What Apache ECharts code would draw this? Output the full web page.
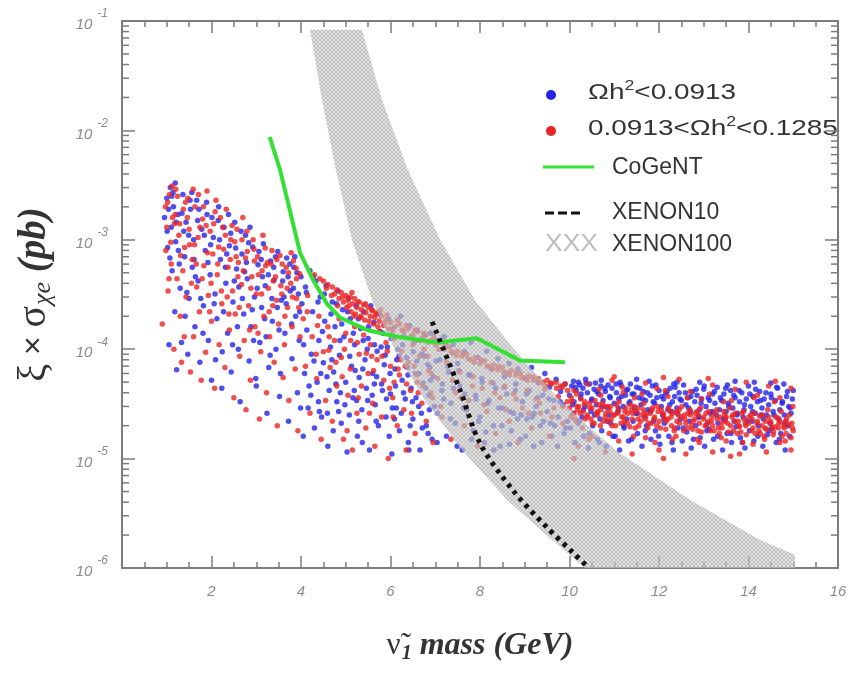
<!DOCTYPE html>
<html>
<head>
<meta charset="utf-8">
<script src="https://cdn.jsdelivr.net/npm/echarts@6/dist/echarts.min.js"></script>
<style>
html,body{margin:0;padding:0;background:#fff;}
#chart{width:861px;height:674px;}
</style>
</head>
<body>
<div id="chart"></div>
<script>
// Sneutrino scan points: [mass (GeV), xi * sigma_Xe (pb)]
const bluePoints = [
[0.95,1.6e-3],[1.0,2.4e-3],[1.02,8.5e-4],[1.05,1.1e-4],[1.08,3.0e-3],[1.1,1.3e-3],[1.12,5.2e-4],[1.15,2.0e-3],[1.18,2.2e-4],[1.2,9.6e-4],
[1.22,6.5e-5],[1.25,1.7e-3],[1.3,3.6e-4],[1.33,1.15e-4],[1.36,2.6e-3],[1.4,7.0e-4],[1.43,1.45e-3],[1.47,9.0e-5],[1.5,2.9e-4],[1.53,1.9e-3],
[1.57,5.6e-4],[1.6,1.0e-3],[1.63,1.6e-4],[1.67,2.3e-3],[1.7,4.2e-4],[1.74,7.6e-5],[1.78,1.25e-3],[1.82,2.5e-4],[1.86,8.0e-4],[1.9,1.7e-3],
[1.93,1.2e-4],[1.97,4.8e-4],[2.0,5.2e-5],[2.04,1.05e-3],[2.08,3.2e-4],[2.12,1.9e-4],[2.16,2.0e-3],[2.2,6.6e-4],[2.24,9.5e-5],[2.28,1.3e-3],
[2.32,4.0e-4],[2.36,1.4e-4],[2.4,8.8e-4],[2.44,6.2e-5],[2.48,2.7e-4],[2.52,1.45e-3],[2.56,5.4e-4],[2.6,1.0e-4],[2.64,3.3e-5],[2.68,7.4e-4],
[2.72,2.1e-4],[2.76,1.1e-3],[2.8,4.4e-4],[2.84,7.8e-5],[2.88,1.6e-4],[2.92,8.6e-4],[2.96,3.0e-4],[3.0,4.6e-5],[3.04,5.9e-4],[3.08,1.15e-4],
[3.12,2.4e-4],[3.16,9.2e-4],[3.2,3.8e-4],[3.24,2.6e-5],[3.28,6.8e-5],[3.32,6.4e-4],[3.36,1.8e-4],[3.4,4.3e-4],[3.44,1.0e-4],[3.48,7.8e-4],
[3.52,3.7e-5],[3.56,2.8e-4],[3.6,5.1e-4],[3.64,1.4e-4],[3.68,6.8e-4],[3.72,2.2e-5],[3.76,3.4e-4],[3.8,8.2e-5],[3.84,5.6e-4],[3.88,2.0e-4],
[3.92,4.0e-5],[3.96,1.2e-4],[4.0,4.6e-4],
[1.04,1.9e-3],[1.14,2.7e-3],[1.21,1.45e-3],[1.28,6.0e-4],[1.38,1.2e-3],[1.45,3.3e-4],[1.52,2.3e-3],[1.61,6.6e-4],[1.69,1.5e-3],[1.76,2.9e-4],
[1.84,1.1e-3],[1.92,6.2e-4],[2.01,1.6e-3],[2.09,8.0e-5],[2.18,1.0e-3],[2.27,2.2e-4],[2.34,7.4e-4],[2.43,1.15e-3],[2.51,4.2e-4],[2.58,1.6e-4],
[2.66,1.2e-3],[2.74,5.1e-4],[2.83,9.4e-4],[2.91,2.3e-4],[2.99,5.4e-5],[3.06,7.8e-4],[3.14,4.6e-4],[3.22,1.3e-4],[3.31,8.8e-5],[3.39,5.6e-4],
[3.47,2.4e-4],[3.54,6.0e-5],[3.62,3.0e-4],[3.71,4.6e-4],[3.79,1.7e-4],[3.86,7.0e-4],[3.94,3.2e-4],[3.99,2.9e-5],
[1.01,1.2e-3],[1.07,6.8e-4],[1.11,2.5e-3],[1.19,3.3e-3],[1.26,8.0e-4],[1.34,1.75e-3],[1.41,2.0e-4],[1.49,1.1e-3],[1.56,2.7e-3],[1.64,4.6e-4],
[1.72,1.9e-3],[1.81,1.4e-4],[1.89,2.2e-3],[1.98,9.0e-4],[2.06,2.6e-4],[2.15,1.5e-3],[2.23,4.4e-5],[2.31,5.6e-4],[2.38,1.7e-3],[2.47,1.1e-4],
[2.54,8.4e-4],[2.61,3.7e-4],[2.69,2.9e-4],[2.78,6.2e-4],[2.86,1.3e-3],[2.94,1.2e-4],[3.02,3.6e-4],[3.11,6.6e-4],[3.19,1.9e-4],[3.27,4.8e-4],
[3.35,2.9e-4],[3.43,7.0e-4],[3.51,1.5e-4],[3.59,4.2e-4],[3.67,2.6e-4],[3.75,6.0e-4],[3.83,3.6e-4],[3.91,5.0e-4],[3.97,2.2e-4],
[4.02,2.6e-4],[4.05,1.6e-5],[4.08,6.0e-5],[4.1,3.7e-4],[4.13,1.5e-4],[4.16,2.9e-5],[4.2,5.2e-4],[4.23,9.0e-5],[4.26,2.2e-4],[4.3,1.9e-5],
[4.33,4.2e-4],[4.36,5.0e-5],[4.4,1.2e-4],[4.43,3.0e-4],[4.46,2.4e-5],[4.5,7.5e-5],[4.53,1.8e-4],[4.56,3.8e-4],[4.6,1.3e-5],[4.63,4.2e-5],
[4.66,1.05e-4],[4.7,2.7e-4],[4.73,6.2e-5],[4.76,1.6e-4],[4.8,3.3e-5],[4.83,3.4e-4],[4.86,8.8e-5],[4.9,2.1e-5],[4.93,2.3e-4],[4.96,1.3e-4],
[5.0,5.0e-5],[5.03,1.15e-5],[5.06,2.9e-4],[5.1,1.9e-4],[5.13,7.0e-5],[5.16,3.6e-5],[5.2,1.1e-4],[5.23,2.5e-4],[5.26,1.6e-5],[5.3,5.5e-5],
[5.33,1.55e-4],[5.36,2.8e-5],[5.4,2.2e-4],[5.43,8.0e-5],[5.46,4.4e-5],[5.5,1.25e-4],[5.53,1.2e-5],[5.56,2.5e-4],[5.6,6.0e-5],[5.63,1.75e-4],
[5.66,3.1e-5],[5.7,9.6e-5],[5.73,2.0e-5],[5.76,2.1e-4],[5.8,4.8e-5],[5.83,1.4e-4],[5.86,7.2e-5],[5.9,2.4e-5],[5.93,1.05e-4],[5.96,1.9e-4],
[6.0,3.9e-5],[6.03,1.1e-5],[6.06,1.55e-4],[6.1,6.6e-5],[6.13,2.9e-5],[6.16,1.0e-4],[6.2,1.8e-5],[6.23,2.0e-4],[6.26,5.2e-5],[6.3,1.3e-4],
[6.33,3.5e-5],[6.36,8.4e-5],[6.4,1.4e-5],[6.43,1.65e-4],[6.46,4.4e-5],[6.5,2.3e-5],[6.53,1.15e-4],[6.56,6.0e-5],[6.6,1.5e-4],[6.63,3.0e-5],
[6.66,1.2e-5],[6.7,9.0e-5],[6.73,4.9e-5],[6.76,1.35e-4],[6.8,2.0e-5],[6.83,7.2e-5],[6.86,3.8e-5],[6.9,1.4e-4],[6.93,1.5e-5],[6.96,5.6e-5],
[4.06,1.1e-4],[4.18,4.6e-5],[4.29,7.8e-5],[4.39,3.3e-5],[4.48,1.45e-4],[4.59,2.6e-5],[4.69,8.0e-5],[4.78,4.8e-5],[4.87,1.2e-4],[4.98,3.1e-5],
[5.09,8.6e-5],[5.19,4.2e-5],[5.29,2.2e-5],[5.38,6.6e-5],[5.48,1.0e-4],[5.59,3.8e-5],[5.69,5.6e-5],[5.79,1.05e-4],[5.91,3.5e-5],[5.99,6.0e-5],
[6.09,2.3e-5],[6.19,8.6e-5],[6.29,4.0e-5],[6.39,5.8e-5],[6.49,3.3e-5],[6.59,7.8e-5],[6.69,2.6e-5],[6.79,4.4e-5],[6.88,6.8e-5],[6.98,3.0e-5],
[4.44,6.0e-5],[4.84,2.7e-5],[5.24,3.4e-5],[5.64,4.8e-5],[6.04,2.9e-5],[6.44,2.0e-5],[6.84,1.7e-5],
[4.12,3.3e-4],[4.27,4.6e-4],[4.38,2.7e-4],[4.52,3.2e-4],[4.67,2.1e-4],[4.79,2.6e-4],[4.91,1.7e-4],[5.04,2.2e-4],[5.17,1.4e-4],[5.28,1.9e-4],
[5.39,1.2e-4],[5.51,1.6e-4],[5.64,1.1e-4],[5.77,1.45e-4],[5.88,8.8e-5],[6.02,1.25e-4],[6.14,8.0e-5],[6.27,1.1e-4],[6.38,6.8e-5],[6.51,9.5e-5],
[6.64,6.0e-5],[6.77,8.6e-5],[6.89,5.2e-5],[7.02,7.8e-5],[7.16,4.8e-5],[7.28,7.0e-5],[7.41,4.4e-5],[7.53,6.4e-5],[7.66,3.9e-5],[7.78,5.8e-5],
[7.91,3.5e-5],[8.04,5.4e-5],[8.17,3.2e-5],[8.29,4.9e-5],[8.42,2.9e-5],[8.54,4.5e-5],[8.67,2.7e-5],[8.79,4.2e-5],[8.92,2.5e-5],[9.04,3.9e-5],
[9.17,2.4e-5],[9.29,3.6e-5],[9.42,2.2e-5],[9.54,3.5e-5],[9.67,2.0e-5],[9.79,3.3e-5],[9.91,1.9e-5],
[4.22,3.8e-5],[4.41,2.7e-5],[4.58,5.6e-5],[4.72,1.8e-5],[4.88,4.0e-5],[5.08,2.5e-5],[5.21,6.4e-5],[5.37,1.4e-5],[5.49,3.4e-5],[5.68,2.2e-5],
[5.82,4.2e-5],[5.97,1.6e-5],[6.11,4.6e-5],[6.24,2.6e-5],[6.41,1.2e-5],[6.57,3.6e-5],[6.71,1.9e-5],[6.87,2.8e-5],[7.04,1.4e-5],[7.19,3.5e-5],
[7.34,2.3e-5],[7.49,1.3e-5],[7.63,2.9e-5],[7.81,1.5e-5],[7.97,2.2e-5],[8.13,1.75e-5],[8.31,1.2e-5],[8.49,2.0e-5],[8.66,1.35e-5],[8.84,2.3e-5],
[9.02,1.6e-5],[9.21,2.6e-5],[9.38,1.4e-5],[9.57,2.1e-5],[9.73,1.3e-5],[9.88,1.7e-5],
[7.0,1.2e-4],[7.05,2.6e-5],[7.1,8.0e-5],[7.15,4.2e-5],[7.2,1.3e-4],[7.25,1.6e-5],[7.3,6.2e-5],[7.35,3.2e-5],[7.4,1.1e-4],[7.45,2.1e-5],
[7.5,7.4e-5],[7.55,4.6e-5],[7.6,1.2e-5],[7.65,9.5e-5],[7.7,2.8e-5],[7.75,5.8e-5],[7.8,1.15e-4],[7.85,1.8e-5],[7.9,3.8e-5],[7.95,8.4e-5],
[8.0,2.4e-5],[8.05,5.0e-5],[8.1,1.4e-5],[8.15,9.6e-5],[8.2,3.4e-5],[8.25,6.6e-5],[8.3,2.0e-5],[8.35,4.4e-5],[8.4,8.2e-5],[8.45,1.3e-5],
[8.5,2.9e-5],[8.55,5.6e-5],[8.6,3.9e-5],[8.65,7.4e-5],[8.7,1.8e-5],[8.75,2.6e-5],[8.8,4.8e-5],[8.85,6.6e-5],[8.9,1.5e-5],[8.95,3.3e-5],
[9.0,5.4e-5],[9.05,2.3e-5],[9.1,4.2e-5],[9.15,6.8e-5],[9.2,1.3e-5],[9.25,3.0e-5],[9.3,5.0e-5],[9.35,2.0e-5],[9.4,3.8e-5],[9.45,6.0e-5],
[9.5,2.7e-5],[9.55,4.5e-5],[9.6,1.6e-5],[9.65,3.4e-5],[9.7,5.3e-5],[9.75,2.4e-5],[9.8,4.1e-5],[9.85,3.1e-5],[9.9,4.8e-5],[9.95,2.2e-5],
[10.0,3.8e-5],[10.05,4.6e-5],[10.1,3.3e-5],[10.15,4.2e-5],[10.2,5.0e-5],[10.25,3.6e-5],[10.3,4.4e-5],[10.35,3.0e-5],[10.4,4.0e-5],[10.45,4.8e-5],
[10.5,3.5e-5],[10.55,4.3e-5],[10.6,3.1e-5],[10.65,3.9e-5],[10.7,4.6e-5],[10.75,3.4e-5],[10.8,4.1e-5],[10.85,2.9e-5],[10.9,3.7e-5],[10.95,4.4e-5],
[11.0,3.2e-5],[11.05,4.0e-5],[11.1,3.5e-5],[11.15,4.7e-5],[11.2,3.0e-5],[11.25,3.8e-5],[11.3,4.3e-5],[11.35,3.3e-5],[11.4,3.9e-5],[11.45,2.9e-5],
[11.5,4.5e-5],[11.55,3.6e-5],[11.6,3.1e-5],[11.65,4.1e-5],[11.7,3.4e-5],[11.75,2.8e-5],[11.8,3.8e-5],[11.85,4.6e-5],[11.9,3.2e-5],[11.95,3.6e-5],
[12.0,4.2e-5],[12.05,3.0e-5],[12.1,3.5e-5],[12.15,3.9e-5],[12.2,2.8e-5],[12.25,4.4e-5],[12.3,3.3e-5],[12.35,3.7e-5],[12.4,2.9e-5],[12.45,4.0e-5],
[12.5,3.4e-5],[12.55,4.7e-5],[12.6,3.1e-5],[12.65,3.6e-5],[12.7,2.7e-5],[12.75,4.1e-5],[12.8,3.3e-5],[12.85,3.8e-5],[12.9,2.8e-5],[12.95,3.5e-5],
[13.0,4.3e-5],[13.05,3.0e-5],[13.1,3.6e-5],[13.15,2.6e-5],[13.2,3.9e-5],[13.25,3.2e-5],[13.3,4.5e-5],[13.35,2.8e-5],[13.4,3.4e-5],[13.45,3.9e-5],
[13.5,2.7e-5],[13.55,3.2e-5],[13.6,4.2e-5],[13.65,2.9e-5],[13.7,3.6e-5],[13.75,2.6e-5],[13.8,3.3e-5],[13.85,4.0e-5],[13.9,2.8e-5],[13.95,3.5e-5],
[14.0,4.6e-5],[14.05,3.0e-5],[14.1,3.7e-5],[14.15,2.6e-5],[14.2,3.3e-5],[14.25,4.1e-5],[14.3,2.9e-5],[14.35,3.5e-5],[14.4,2.5e-5],[14.45,3.1e-5],
[14.5,3.9e-5],[14.55,2.7e-5],[14.6,3.4e-5],[14.65,4.4e-5],[14.7,2.8e-5],[14.75,3.2e-5],[14.8,2.5e-5],[14.85,3.7e-5],[14.9,3.0e-5],[14.95,2.6e-5],
[10.02,1.9e-5],[10.12,1.4e-5],[10.22,2.2e-5],[10.32,1.6e-5],[10.42,1.25e-5],[10.52,2.0e-5],[10.62,1.5e-5],[10.72,1.8e-5],[10.82,1.3e-5],[10.92,2.1e-5],
[11.02,1.6e-5],[11.12,1.2e-5],[11.22,1.9e-5],[11.32,1.45e-5],[11.42,2.2e-5],[11.52,1.7e-5],[11.62,1.3e-5],[11.72,2.0e-5],[11.82,1.5e-5],[11.92,1.8e-5],
[12.02,1.35e-5],[12.12,2.1e-5],[12.22,1.6e-5],[12.32,1.2e-5],[12.42,1.9e-5],[12.52,1.45e-5],[12.62,1.75e-5],[12.72,1.25e-5],[12.82,2.0e-5],[12.92,1.55e-5],
[13.02,1.3e-5],[13.12,1.85e-5],[13.22,1.5e-5],[13.32,2.1e-5],[13.42,1.2e-5],[13.52,1.7e-5],[13.62,1.4e-5],[13.72,1.95e-5],[13.82,1.55e-5],[13.92,1.25e-5],
[14.02,1.8e-5],[14.12,1.45e-5],[14.22,2.0e-5],[14.32,1.3e-5],[14.42,1.65e-5],[14.52,1.9e-5],[14.62,1.4e-5],[14.72,1.7e-5],[14.82,1.2e-5],[14.92,1.6e-5],
[10.08,2.6e-5],[10.28,2.4e-5],[10.48,2.7e-5],[10.68,2.3e-5],[10.88,2.5e-5],[11.08,2.7e-5],[11.28,2.3e-5],[11.48,2.6e-5],[11.68,2.4e-5],[11.88,2.2e-5],
[12.08,2.5e-5],[12.28,2.7e-5],[12.48,2.3e-5],[12.68,2.2e-5],[12.88,2.4e-5],[13.08,2.1e-5],[13.28,2.5e-5],[13.48,2.3e-5],[13.68,2.2e-5],[13.88,2.4e-5],
[14.08,2.2e-5],[14.28,2.5e-5],[14.48,2.1e-5],[14.68,2.3e-5],[14.88,2.0e-5],
[11.5,5.3e-5],[13.7,5.1e-5],[14.5,4.9e-5],[12.4,5.0e-5],[15.0,4.2e-5],
[10.07,3.1e-5],[10.13,4.5e-5],[10.19,2.1e-5],[10.26,3.9e-5],[10.31,2.8e-5],[10.37,4.9e-5],[10.44,1.7e-5],[10.49,3.4e-5],[10.56,2.5e-5],[10.61,4.1e-5],
[10.67,1.4e-5],[10.73,3.0e-5],[10.79,4.4e-5],[10.84,2.2e-5],[10.91,3.6e-5],[10.97,1.6e-5],[11.04,4.8e-5],[11.09,2.9e-5],[11.16,3.7e-5],[11.21,2.0e-5],
[11.27,4.2e-5],[11.33,3.2e-5],[11.39,1.5e-5],[11.44,3.9e-5],[11.51,2.6e-5],[11.57,4.4e-5],[11.63,3.5e-5],[11.69,1.8e-5],[11.74,4.0e-5],[11.81,2.7e-5],
[11.87,3.3e-5],[11.93,4.7e-5],[11.99,1.6e-5],[12.06,3.7e-5],[12.11,2.3e-5],[12.18,4.1e-5],[12.24,3.1e-5],[12.29,1.4e-5],[12.36,4.5e-5],[12.41,2.6e-5],
[12.47,3.5e-5],[12.54,1.9e-5],[12.59,4.0e-5],[12.66,2.9e-5],[12.71,3.7e-5],[12.77,1.5e-5],[12.83,4.3e-5],[12.89,2.4e-5],[12.94,3.2e-5],[13.01,4.6e-5],
[13.07,1.8e-5],[13.13,3.4e-5],[13.19,2.7e-5],[13.24,4.1e-5],[13.31,1.6e-5],[13.37,3.6e-5],[13.43,2.3e-5],[13.49,4.4e-5],[13.56,3.0e-5],[13.61,1.7e-5],
[13.67,3.8e-5],[13.74,2.5e-5],[13.79,4.2e-5],[13.86,1.4e-5],[13.91,3.1e-5],[13.97,2.2e-5],[14.03,3.9e-5],[14.09,2.7e-5],[14.16,4.3e-5],[14.21,1.6e-5],
[14.27,3.4e-5],[14.33,2.3e-5],[14.39,4.0e-5],[14.46,1.8e-5],[14.51,3.6e-5],[14.57,2.5e-5],[14.63,4.5e-5],[14.69,1.5e-5],[14.76,3.3e-5],[14.81,2.1e-5],
[14.87,4.1e-5],[14.93,2.9e-5],[14.98,3.5e-5],
[10.09,5.1e-5],[10.23,4.7e-5],[10.36,5.3e-5],[10.58,4.9e-5],[10.71,5.2e-5],[10.86,4.7e-5],[11.13,5.0e-5],[11.36,4.8e-5],[11.78,5.1e-5],[12.33,4.8e-5],
[12.91,5.0e-5],[13.53,4.7e-5],[14.13,5.0e-5],[14.79,4.8e-5]
];

const redPoints = [
[0.9,1.7e-4],[0.97,2.0e-3],[1.0,1.3e-3],[1.03,3.4e-4],[1.06,2.6e-3],[1.1,6.0e-4],[1.13,1.6e-3],[1.16,1.0e-4],[1.2,2.9e-3],[1.23,4.4e-4],
[1.27,1.1e-3],[1.3,2.0e-4],[1.33,7.6e-5],[1.37,1.9e-3],[1.4,8.5e-4],[1.43,3.0e-4],[1.47,2.4e-3],[1.5,1.25e-3],[1.53,6.2e-5],[1.57,6.6e-4],
[1.6,1.3e-4],[1.63,2.0e-3],[1.67,3.7e-4],[1.7,1.05e-3],[1.73,2.2e-4],[1.77,5.2e-5],[1.8,1.55e-3],[1.83,5.8e-4],[1.87,9.4e-5],[1.9,2.8e-3],
[1.93,3.1e-4],[1.97,1.2e-3],[2.0,1.8e-4],[2.03,7.4e-4],[2.07,4.4e-5],[2.1,2.3e-3],[2.13,4.8e-4],[2.17,1.1e-4],[2.2,1.6e-3],[2.23,2.6e-4],
[2.27,8.2e-4],[2.3,6.8e-5],[2.33,1.9e-3],[2.37,5.6e-4],[2.4,1.5e-4],[2.43,1.0e-3],[2.47,3.4e-4],[2.5,3.6e-5],[2.53,2.1e-4],[2.57,1.25e-3],
[2.6,6.2e-4],[2.63,8.6e-5],[2.67,3.9e-4],[2.7,1.6e-3],[2.73,1.2e-4],[2.77,2.8e-5],[2.8,7.8e-4],[2.83,2.5e-4],[2.87,5.2e-5],[2.9,4.6e-4],
[2.93,1.0e-3],[2.97,1.6e-4],[3.0,3.2e-4],[3.03,7.0e-4],[3.07,2.3e-5],[3.1,9.5e-5],[3.13,5.2e-4],[3.17,2.0e-4],[3.2,8.4e-4],[3.23,4.0e-5],
[3.27,3.6e-4],[3.3,1.3e-4],[3.33,6.0e-4],[3.37,2.5e-4],[3.4,7.6e-5],[3.43,4.6e-4],[3.47,2.0e-5],[3.5,1.7e-4],[3.53,7.2e-4],[3.57,3.2e-4],
[3.6,5.5e-5],[3.63,1.1e-4],[3.67,5.6e-4],[3.7,2.4e-4],[3.73,3.4e-5],[3.77,4.0e-4],[3.8,1.6e-4],[3.83,6.4e-4],[3.87,6.6e-5],[3.9,2.9e-4],
[3.93,1.8e-5],[3.97,4.9e-4],
[1.02,2.2e-3],[1.09,9.5e-4],[1.17,1.4e-3],[1.24,2.5e-3],[1.31,7.2e-4],[1.39,1.3e-4],[1.46,1.6e-3],[1.55,4.0e-4],[1.62,9.0e-4],[1.71,2.6e-3],
[1.79,4.4e-4],[1.88,1.35e-3],[1.96,2.2e-4],[2.05,1.4e-3],[2.14,6.0e-4],[2.22,3.4e-4],[2.31,1.1e-3],[2.39,2.1e-4],[2.46,1.35e-3],[2.55,7.0e-4],
[2.62,2.4e-4],[2.71,5.2e-4],[2.79,1.2e-3],[2.88,3.6e-4],[2.96,6.4e-4],[3.04,1.4e-4],[3.12,3.2e-4],[3.21,5.8e-4],[3.29,2.2e-4],[3.38,4.2e-4],
[3.46,6.6e-4],[3.55,3.8e-4],[3.64,2.0e-4],[3.72,5.0e-4],[3.81,3.0e-4],[3.9,4.4e-4],[3.98,1.3e-4],
[0.98,8.0e-4],[1.05,4.4e-4],[1.12,3.1e-3],[1.19,1.7e-3],[1.29,1.4e-3],[1.36,5.2e-4],[1.42,2.2e-3],[1.51,9.0e-4],[1.59,2.9e-3],[1.66,6.0e-4],
[1.74,1.3e-3],[1.82,2.0e-3],[1.91,7.6e-4],[1.99,4.0e-4],[2.08,1.8e-3],[2.16,8.6e-4],[2.25,1.3e-3],[2.35,3.0e-4],[2.42,6.6e-4],[2.52,9.6e-4],
[2.59,4.6e-4],[2.68,1.0e-3],[2.76,6.8e-4],[2.85,1.5e-4],[2.95,8.2e-4],[3.05,4.8e-4],[3.15,1.1e-3],[3.25,6.2e-4],[3.35,8.0e-4],[3.45,2.8e-4],
[3.58,6.0e-4],[3.69,3.6e-4],[3.78,7.6e-4],[3.89,5.5e-4],[3.95,2.4e-4],
[4.5,4.2e-4],[4.6,3.9e-4],[4.7,3.7e-4],[4.75,3.2e-4],[4.8,3.5e-4],[4.85,2.9e-4],[4.9,3.3e-4],[4.95,2.7e-4],[5.0,3.1e-4],[5.02,2.4e-4],
[5.05,2.8e-4],[5.1,3.0e-4],[5.12,2.2e-4],[5.15,2.6e-4],[5.2,2.9e-4],[5.22,2.1e-4],[5.25,2.4e-4],[5.3,2.7e-4],[5.32,1.95e-4],[5.35,2.3e-4],
[5.4,2.55e-4],[5.42,1.85e-4],[5.45,2.15e-4],[5.5,2.4e-4],[5.55,2.0e-4],[5.6,2.25e-4],[5.62,1.7e-4],[5.65,1.95e-4],[5.7,2.15e-4],[5.75,1.8e-4],
[5.8,2.0e-4],[5.85,1.65e-4],[5.9,1.85e-4],[5.95,1.55e-4],[6.0,1.75e-4],[6.1,1.6e-4],[6.2,1.7e-4],[6.3,1.45e-4],[6.4,1.55e-4],[6.5,1.35e-4],
[6.6,1.45e-4],[6.7,1.25e-4],[6.8,1.35e-4],[6.9,1.2e-4],
[4.42,4.4e-4],[4.57,3.6e-4],[4.68,3.1e-4],[4.82,2.5e-4],[4.93,3.0e-4],[5.07,2.5e-4],[5.14,3.3e-4],[5.18,2.0e-4],[5.27,2.7e-4],[5.34,2.0e-4],
[5.44,2.6e-4],[5.52,1.8e-4],[5.58,2.3e-4],[5.67,2.1e-4],[5.72,1.6e-4],[5.78,2.3e-4],[5.87,1.75e-4],[5.92,2.05e-4],[6.04,1.45e-4],[6.15,1.85e-4],
[6.26,1.5e-4],[6.35,1.65e-4],[6.46,1.3e-4],[6.55,1.5e-4],[6.65,1.2e-4],[6.74,1.4e-4],[6.84,1.15e-4],[6.97,1.3e-4],[7.08,1.0e-4],[7.22,1.1e-4],
[7.36,9.5e-5],[7.48,8.8e-5],[7.62,9.2e-5],[7.74,8.2e-5],[7.87,7.6e-5],[8.02,8.0e-5],[8.16,7.0e-5],[8.28,6.6e-5],[8.41,7.0e-5],[8.53,6.2e-5],
[8.66,5.8e-5],[8.81,6.2e-5],[8.93,5.5e-5],[9.06,5.2e-5],[9.19,5.6e-5],[9.32,4.9e-5],[9.46,4.6e-5],[9.58,4.9e-5],[9.71,4.4e-5],[9.84,4.5e-5],
[9.96,4.2e-5],
[4.05,1.9e-4],[4.1,7.0e-5],[4.15,3.1e-4],[4.2,2.6e-5],[4.25,1.3e-4],[4.3,4.8e-4],[4.35,5.4e-5],[4.4,2.0e-4],[4.45,1.5e-5],[4.5,9.5e-5],
[4.55,3.4e-5],[4.6,1.6e-4],[4.65,6.8e-5],[4.7,2.2e-5],[4.75,1.2e-4],[4.8,4.6e-5],[4.85,1.9e-4],[4.9,8.4e-5],[4.95,1.5e-5],[5.0,1.4e-4],
[5.05,3.8e-5],[5.1,6.6e-5],[5.15,1.2e-5],[5.2,1.6e-4],[5.25,2.6e-5],[5.3,9.0e-5],[5.35,4.6e-5],[5.4,1.35e-4],[5.45,1.9e-5],[5.5,6.0e-5],
[5.55,1.1e-4],[5.6,3.2e-5],[5.65,1.3e-5],[5.7,8.0e-5],[5.75,1.45e-4],[5.8,2.4e-5],[5.85,5.2e-5],[5.9,1.15e-4],[5.95,1.0e-5],[6.0,7.0e-5],
[6.05,3.6e-5],[6.1,1.25e-4],[6.15,2.0e-5],[6.2,5.8e-5],[6.25,9.6e-5],[6.3,2.8e-5],[6.35,1.2e-5],[6.4,7.6e-5],[6.45,4.2e-5],[6.5,1.1e-4],
[6.55,1.7e-5],[6.6,5.0e-5],[6.65,8.6e-5],[6.7,3.2e-5],[6.75,1.0e-4],[6.8,2.2e-5],[6.85,6.4e-5],[6.9,4.0e-5],[6.95,1.4e-5],
[4.14,2.2e-4],[4.37,1.65e-4],[4.62,9.8e-5],[4.78,7.6e-5],[4.92,5.6e-5],[5.11,1.2e-4],[5.28,3.6e-5],[5.46,9.2e-5],[5.62,6.4e-5],[5.81,8.6e-5],
[5.98,4.4e-5],[6.17,6.6e-5],[6.36,4.8e-5],[6.58,5.8e-5],[6.72,4.6e-5],[6.94,3.6e-5],[5.03,1.8e-5],[5.53,2.6e-5],[6.06,2.4e-5],[6.47,2.6e-5],
[6.08,5.0e-5],[6.33,7.0e-5],[6.62,4.0e-5],[6.91,6.0e-5],[7.12,3.0e-5],[7.39,5.2e-5],[7.58,3.6e-5],[7.83,4.6e-5],[8.09,3.1e-5],[8.33,4.0e-5],
[8.58,2.8e-5],[8.81,3.5e-5],[9.08,2.6e-5],[9.33,3.2e-5],[9.61,2.4e-5],[9.86,3.0e-5],[4.34,9.0e-5],[4.63,1.3e-4],[4.97,1.0e-4],[5.26,1.15e-4],
[5.58,8.6e-5],[5.93,9.6e-5],[6.22,8.0e-5],[6.53,7.0e-5],[6.83,8.6e-5],
[7.0,1.1e-4],[7.1,1.15e-4],[7.2,1.0e-4],[7.3,1.05e-4],[7.4,9.2e-5],[7.5,9.6e-5],[7.6,8.6e-5],[7.7,9.0e-5],[7.8,8.0e-5],[7.9,8.4e-5],
[8.0,7.4e-5],[8.1,7.8e-5],[8.2,7.0e-5],[8.3,7.2e-5],[8.4,6.5e-5],[8.5,6.8e-5],[8.6,6.1e-5],[8.7,6.4e-5],[8.8,5.8e-5],[8.9,6.0e-5],
[9.0,5.5e-5],[9.1,5.7e-5],[9.2,5.2e-5],[9.3,5.4e-5],[9.4,5.0e-5],[9.5,5.2e-5],[9.6,4.8e-5],[9.7,5.0e-5],[9.8,4.6e-5],[9.9,4.8e-5],
[7.05,5.4e-5],[7.15,2.4e-5],[7.25,7.6e-5],[7.35,1.5e-5],[7.45,4.0e-5],[7.55,6.2e-5],[7.65,2.0e-5],[7.75,3.4e-5],[7.85,5.6e-5],[7.95,1.3e-5],
[8.05,4.4e-5],[8.15,2.7e-5],[8.25,5.0e-5],[8.35,1.7e-5],[8.45,3.6e-5],[8.55,4.6e-5],[8.65,2.2e-5],[8.75,3.9e-5],[8.85,1.4e-5],[8.95,2.9e-5],
[9.05,4.2e-5],[9.15,1.9e-5],[9.25,3.5e-5],[9.35,2.6e-5],[9.45,4.3e-5],[9.55,1.6e-5],[9.65,2.9e-5],[9.75,3.7e-5],[9.85,2.1e-5],[9.95,3.3e-5],
[10.1,1.0e-5],
[10.0,2.9e-5],[10.1,2.6e-5],[10.2,3.0e-5],[10.3,2.7e-5],[10.4,2.5e-5],[10.5,2.9e-5],[10.6,2.6e-5],[10.7,2.8e-5],[10.8,2.4e-5],[10.9,2.7e-5],
[11.0,2.5e-5],[11.1,2.8e-5],[11.2,2.4e-5],[11.3,2.6e-5],[11.4,2.3e-5],[11.5,2.7e-5],[11.6,2.5e-5],[11.7,2.3e-5],[11.8,2.6e-5],[11.9,2.4e-5],
[12.0,2.2e-5],[12.1,2.5e-5],[12.2,2.3e-5],[12.3,2.6e-5],[12.4,2.2e-5],[12.5,2.4e-5],[12.6,2.1e-5],[12.7,2.5e-5],[12.8,2.3e-5],[12.9,2.1e-5],
[13.0,2.4e-5],[13.1,2.2e-5],[13.2,2.0e-5],[13.3,2.3e-5],[13.4,2.1e-5],[13.5,2.4e-5],[13.6,2.0e-5],[13.7,2.2e-5],[13.8,1.95e-5],[13.9,2.3e-5],
[14.0,2.1e-5],[14.1,1.9e-5],[14.2,2.2e-5],[14.3,2.0e-5],[14.4,1.85e-5],[14.5,2.1e-5],[14.6,1.95e-5],[14.7,2.2e-5],[14.8,1.9e-5],[14.9,2.05e-5],
[15.0,1.8e-5],
[10.05,3.3e-5],[10.15,2.2e-5],[10.25,3.5e-5],[10.35,2.3e-5],[10.45,3.2e-5],[10.55,2.1e-5],[10.65,3.1e-5],[10.75,2.2e-5],[10.85,3.0e-5],[10.95,2.0e-5],
[11.05,3.1e-5],[11.15,2.1e-5],[11.25,2.9e-5],[11.35,1.95e-5],[11.45,3.0e-5],[11.55,2.0e-5],[11.65,2.8e-5],[11.75,1.9e-5],[11.85,2.9e-5],[11.95,2.0e-5],
[12.05,2.8e-5],[12.15,1.85e-5],[12.25,2.7e-5],[12.35,1.9e-5],[12.45,2.8e-5],[12.55,1.8e-5],[12.65,2.6e-5],[12.75,1.85e-5],[12.85,2.7e-5],[12.95,1.75e-5],
[13.05,2.6e-5],[13.15,1.8e-5],[13.25,2.6e-5],[13.35,1.7e-5],[13.45,2.7e-5],[13.55,1.75e-5],[13.65,2.5e-5],[13.75,1.7e-5],[13.85,2.6e-5],[13.95,1.65e-5],
[14.05,2.5e-5],[14.15,1.7e-5],[14.25,2.45e-5],[14.35,1.6e-5],[14.45,2.4e-5],[14.55,1.65e-5],[14.65,2.35e-5],[14.75,1.6e-5],[14.85,2.3e-5],[14.95,1.55e-5],
[10.03,2.4e-5],[10.18,2.8e-5],[10.33,3.1e-5],[10.48,2.3e-5],[10.63,2.7e-5],[10.78,3.0e-5],[10.93,2.3e-5],[11.08,2.6e-5],[11.23,2.2e-5],[11.38,2.8e-5],
[11.53,2.3e-5],[11.68,2.6e-5],[11.83,2.1e-5],[11.98,2.7e-5],[12.13,2.3e-5],[12.28,2.0e-5],[12.43,2.5e-5],[12.58,2.3e-5],[12.73,2.0e-5],[12.88,2.5e-5],
[13.03,2.0e-5],[13.18,2.4e-5],[13.33,1.9e-5],[13.48,2.2e-5],[13.63,2.4e-5],[13.78,2.0e-5],[13.93,2.1e-5],[14.08,2.3e-5],[14.23,1.8e-5],[14.38,2.2e-5],
[14.53,1.9e-5],[14.68,2.1e-5],[14.83,2.2e-5],[14.98,1.9e-5],
[10.04,3.6e-5],[10.11,2.3e-5],[10.17,3.0e-5],[10.24,2.6e-5],[10.29,1.9e-5],[10.34,3.3e-5],[10.39,2.4e-5],[10.46,2.9e-5],[10.51,2.1e-5],[10.57,3.4e-5],
[10.63,2.5e-5],[10.69,2.0e-5],[10.74,3.2e-5],[10.81,2.6e-5],[10.87,2.2e-5],[10.92,3.0e-5],[10.98,2.5e-5],[11.03,2.0e-5],[11.11,3.3e-5],[11.17,2.4e-5],
[11.24,2.7e-5],[11.29,2.1e-5],[11.36,3.1e-5],[11.41,2.6e-5],[11.47,1.9e-5],[11.54,2.9e-5],[11.59,2.2e-5],[11.66,3.2e-5],[11.71,2.5e-5],[11.77,2.1e-5],
[11.84,2.8e-5],[11.89,2.3e-5],[11.96,3.0e-5],[12.03,1.9e-5],[12.09,2.6e-5],[12.16,2.2e-5],[12.21,2.9e-5],[12.27,2.4e-5],[12.34,1.8e-5],[12.39,2.7e-5],
[12.46,2.1e-5],[12.51,3.0e-5],[12.57,2.5e-5],[12.64,1.9e-5],[12.69,2.8e-5],[12.76,2.2e-5],[12.81,2.6e-5],[12.87,1.8e-5],[12.93,2.9e-5],[12.99,2.3e-5],
[13.06,2.0e-5],[13.11,2.7e-5],[13.17,2.2e-5],[13.23,1.8e-5],[13.29,2.8e-5],[13.36,2.4e-5],[13.41,1.9e-5],[13.47,2.5e-5],[13.53,2.1e-5],[13.59,2.9e-5],
[13.66,1.8e-5],[13.71,2.6e-5],[13.77,2.2e-5],[13.83,1.75e-5],[13.89,2.7e-5],[13.94,2.0e-5],[14.01,2.4e-5],[14.07,1.8e-5],[14.13,2.6e-5],[14.19,2.1e-5],
[14.26,1.7e-5],[14.31,2.5e-5],[14.37,1.9e-5],[14.43,2.8e-5],[14.49,2.2e-5],[14.56,1.75e-5],[14.61,2.4e-5],[14.67,1.9e-5],[14.73,2.7e-5],[14.79,2.0e-5],
[14.84,1.7e-5],[14.91,2.5e-5],[14.97,2.1e-5],
[10.16,3.9e-5],[10.43,1.5e-5],[10.66,4.3e-5],[10.89,1.7e-5],[11.18,4.5e-5],[11.43,1.6e-5],[11.62,3.9e-5],[11.91,1.4e-5],[12.14,4.2e-5],[12.38,1.6e-5],
[12.63,3.6e-5],[12.86,1.5e-5],[13.13,3.9e-5],[13.39,1.55e-5],[13.62,3.4e-5],[13.87,1.4e-5],[14.12,3.6e-5],[14.36,1.5e-5],[14.58,3.3e-5],[14.82,1.45e-5],
[14.99,3.0e-5],
[10.1,4.2e-5],[10.4,4.8e-5],[10.7,3.8e-5],[10.95,5.2e-5],[11.2,4.0e-5],[11.45,3.6e-5],[11.7,4.9e-5],[11.95,4.4e-5],[12.2,3.7e-5],[12.45,5.3e-5],
[12.7,4.1e-5],[12.95,3.5e-5],[13.2,4.7e-5],[13.45,3.3e-5],[13.7,4.3e-5],[13.95,5.0e-5],[14.2,3.8e-5],[14.45,4.6e-5],[14.7,3.6e-5],[14.95,4.4e-5],
[13.1,5.4e-5],[12.1,5.5e-5],[14.6,5.1e-5],[11.0,5.6e-5],
[10.2,1.3e-5],[10.5,1.6e-5],[10.8,1.15e-5],[11.1,1.45e-5],[11.4,1.1e-5],[11.7,1.55e-5],[12.0,1.2e-5],[12.3,1.5e-5],[12.6,1.1e-5],[12.9,1.4e-5],
[13.2,1.15e-5],[13.5,1.45e-5],[13.8,1.1e-5],[14.1,1.35e-5],[14.4,1.15e-5],[14.7,1.4e-5],[14.95,1.2e-5],[12.1,1.0e-5],[13.6,1.05e-5]
];

// CoGeNT preferred-region boundary
const cogentMass  = [3.3, 3.53, 3.98, 4.27, 4.58, 4.87, 5.47, 6.15, 7.04, 7.93, 8.89, 9.9];
const cogentSigma = [8.7e-3, 4.4e-3, 7.6e-4, 4.3e-4, 2.6e-4, 1.95e-4, 1.5e-4, 1.3e-4, 1.15e-4, 1.26e-4, 7.9e-5, 7.6e-5];

// XENON10 limit
const xenon10Mass  = [6.93, 7.55, 8.0, 8.74, 9.5, 10.08, 10.41];
const xenon10Sigma = [1.78e-4, 4.27e-5, 1.38e-5, 5.1e-6, 2.34e-6, 1.38e-6, 1.02e-6];

// XENON100 band: low-mass edge and high-mass edge, top to bottom
const xenon100LowEdgeMass   = [4.2, 4.47, 4.78, 5.14, 5.59, 6.1, 6.77, 7.6, 8.6, 9.61, 10.35];
const xenon100LowEdgeSigma  = [8.3e-2, 1.9e-2, 4.35e-3, 1.0e-3, 2.8e-4, 9.8e-5, 3.4e-5, 1.2e-5, 4.2e-6, 1.8e-6, 1.0e-6];
const xenon100HighEdgeMass  = [5.36, 5.81, 6.39, 7.11, 7.89, 8.78, 9.79, 11.02, 12.69, 14.26, 15.04, 15.04];
const xenon100HighEdgeSigma = [8.3e-2, 1.9e-2, 4.35e-3, 1.0e-3, 2.8e-4, 9.8e-5, 3.4e-5, 1.2e-5, 4.2e-6, 1.8e-6, 1.32e-6, 1.0e-6];

// log-axis minor tick values
const yMinorTicks = [
2e-6,3e-6,4e-6,5e-6,6e-6,7e-6,8e-6,9e-6,
2e-5,3e-5,4e-5,5e-5,6e-5,7e-5,8e-5,9e-5,
2e-4,3e-4,4e-4,5e-4,6e-4,7e-4,8e-4,9e-4,
2e-3,3e-3,4e-3,5e-3,6e-3,7e-3,8e-3,9e-3,
2e-2,3e-2,4e-2,5e-2,6e-2,7e-2,8e-2,9e-2
];

const BLUE = '#2323ea';
const RED = '#ec2323';
const GREEN = '#35e035';
const AXIS = '#7c7c7c';

// fine cross-hatch used to fill the XENON100 band
function hatchPattern() {
  const c = document.createElement('canvas');
  c.width = 4; c.height = 4;
  const g = c.getContext('2d');
  g.fillStyle = 'rgba(206,206,206,0.58)';
  g.fillRect(0, 0, 4, 4);
  g.fillStyle = 'rgba(165,165,165,0.6)';
  for (let i = 0; i < 4; i++) { g.fillRect(i, i, 1, 1); g.fillRect(3 - i, i, 1, 1); }
  return c;
}
const bandFill = { image: hatchPattern(), repeat: 'repeat' };

const chart = echarts.init(document.getElementById('chart'), null, { renderer: 'canvas' });

const tickLabelStyle = { color: '#8c8c8c', fontStyle: 'italic', fontFamily: 'Liberation Sans', fontSize: 15 };

function expLabel(v) {
  const e = Math.round(Math.log10(v));
  return '{b|10}{e|' + e + '}';
}

const xCommon = {
  type: 'value', min: 0, max: 16, interval: 2,
  axisLine: { show: true, onZero: false, lineStyle: { color: AXIS, width: 2 } },
  axisTick: { show: true, inside: true, length: 12, lineStyle: { color: AXIS, width: 1.5 } },
  minorTick: { show: true, splitNumber: 4, length: 6, lineStyle: { color: AXIS, width: 1.5 } },
  splitLine: { show: false }, minorSplitLine: { show: false }
};
const yCommon = {
  type: 'log', logBase: 10, min: 1e-6, max: 1e-1,
  axisLine: { show: true, onZero: false, lineStyle: { color: AXIS, width: 2 } },
  axisTick: { show: true, inside: true, length: 13, lineStyle: { color: AXIS, width: 1.5 } },
  minorTick: { show: false },
  splitLine: { show: false }, minorSplitLine: { show: false }
};

const option = {
  animation: false,
  backgroundColor: '#ffffff',
  grid: { left: 122, top: 21, right: 23, bottom: 106, containLabel: false },
  xAxis: [
    Object.assign({}, xCommon, {
      position: 'bottom',
      axisLabel: Object.assign({}, tickLabelStyle, { margin: 16, formatter: v => (v === 0 ? '' : String(v)) }),
      name: '{v|ν\u0303}{s|1}{m| mass (GeV)}',
      nameLocation: 'middle', nameGap: 60,
      nameTextStyle: {
        rich: {
          v: { fontFamily: 'Liberation Serif', fontSize: 31, color: '#333', verticalAlign: 'middle' },
          s: { fontFamily: 'Liberation Serif', fontStyle: 'italic', fontWeight: 'bold', fontSize: 20, color: '#333', verticalAlign: 'middle', padding: [16, 0, 0, 1] },
          m: { fontFamily: 'Liberation Serif', fontStyle: 'italic', fontWeight: 'bold', fontSize: 32, color: '#333', verticalAlign: 'middle' }
        }
      }
    }),
    Object.assign({}, xCommon, { position: 'top', axisLabel: { show: false } })
  ],
  yAxis: [
    Object.assign({}, yCommon, {
      position: 'left',
      axisLabel: {
        margin: 14, formatter: expLabel,
        rich: {
          b: Object.assign({}, tickLabelStyle, { fontSize: 15, verticalAlign: 'middle', padding: [8, 0, 0, 0] }),
          e: Object.assign({}, tickLabelStyle, { fontSize: 12, verticalAlign: 'middle', padding: [0, 0, 14, 5] })
        }
      },
      name: '{g|ξ}{t| × }{g|σ}{s|χe}{p| (pb)}',
      nameLocation: 'middle', nameGap: 66,
      nameTextStyle: {
        rich: {
          g: { fontFamily: 'Liberation Serif', fontSize: 40, color: '#333', verticalAlign: 'middle' },
          t: { fontFamily: 'Liberation Sans', fontSize: 32, color: '#333', verticalAlign: 'middle' },
          s: { fontFamily: 'Liberation Serif', fontStyle: 'italic', fontSize: 26, color: '#333', verticalAlign: 'middle', padding: [17, 0, 0, 1] },
          p: { fontFamily: 'Liberation Serif', fontStyle: 'italic', fontWeight: 'bold', fontSize: 39, color: '#333', verticalAlign: 'middle' }
        }
      }
    }),
    Object.assign({}, yCommon, { position: 'right', axisLabel: { show: false } })
  ],
  graphic: [
    { type: 'circle', shape: { cx: 551, cy: 95, r: 5 }, style: { fill: BLUE } },
    { type: 'text', x: 588, y: 93, scaleX: 1.27,
      style: { text: '{a|Ωh}{s|2}{a|<0.0913}', verticalAlign: 'middle', align: 'left',
        rich: { a: { fontFamily: 'Liberation Sans', fontSize: 22, fill: '#333', verticalAlign: 'middle' },
                s: { fontFamily: 'Liberation Sans', fontSize: 14, fill: '#333', verticalAlign: 'middle', padding: [0, 0, 14, 0] } } } },
    { type: 'circle', shape: { cx: 551, cy: 131, r: 5 }, style: { fill: RED } },
    { type: 'text', x: 588, y: 129, scaleX: 1.27,
      style: { text: '{a|0.0913<Ωh}{s|2}{a|<0.1285}', verticalAlign: 'middle', align: 'left',
        rich: { a: { fontFamily: 'Liberation Sans', fontSize: 22, fill: '#333', verticalAlign: 'middle' },
                s: { fontFamily: 'Liberation Sans', fontSize: 14, fill: '#333', verticalAlign: 'middle', padding: [0, 0, 14, 0] } } } },
    { type: 'line', shape: { x1: 543, y1: 167, x2: 594, y2: 167 }, style: { stroke: GREEN, lineWidth: 3 } },
    { type: 'text', x: 612, y: 168, style: { text: 'CoGeNT', font: '23px "Liberation Sans"', fill: '#333', verticalAlign: 'middle', align: 'left' } },
    { type: 'line', shape: { x1: 545, y1: 213, x2: 583, y2: 213 }, style: { stroke: '#111', lineWidth: 3, lineDash: [9, 4] } },
    { type: 'text', x: 612, y: 213, style: { text: 'XENON10', font: '23px "Liberation Sans"', fill: '#333', verticalAlign: 'middle', align: 'left' } },
    { type: 'text', x: 545, y: 245, scaleX: 1.15, style: { text: 'XXX', font: '23px "Liberation Sans"', fill: '#bdbdbd', verticalAlign: 'middle', align: 'left' } },
    { type: 'text', x: 612, y: 245, style: { text: 'XENON100', font: '23px "Liberation Sans"', fill: '#333', verticalAlign: 'middle', align: 'left' } }
  ],
  series: [
    {
      name: 'Ωh²<0.0913', type: 'scatter', symbol: 'circle', symbolSize: 5.5,
      itemStyle: { color: BLUE }, data: bluePoints, silent: true, z: 2
    },
    {
      name: '0.0913<Ωh²<0.1285', type: 'scatter', symbol: 'circle', symbolSize: 5.5,
      itemStyle: { color: RED }, data: redPoints, silent: true, z: 2
    },
    {
      name: 'XENON100', type: 'custom', silent: true, z: 3,
      data: [[xenon100LowEdgeMass[0], xenon100LowEdgeSigma[0]]],
      renderItem: function (params, api) {
        const pts = [];
        for (let i = 0; i < xenon100LowEdgeMass.length; i++) pts.push(api.coord([xenon100LowEdgeMass[i], xenon100LowEdgeSigma[i]]));
        for (let i = xenon100HighEdgeMass.length - 1; i >= 0; i--) pts.push(api.coord([xenon100HighEdgeMass[i], xenon100HighEdgeSigma[i]]));
        return { type: 'polygon', shape: { points: pts, smooth: 0 }, style: { fill: bandFill, stroke: null } };
      }
    },
    {
      name: 'CoGeNT', type: 'line', symbol: 'none', z: 4,
      data: cogentMass.map((m, i) => [m, cogentSigma[i]]),
      lineStyle: { color: GREEN, width: 4 }
    },
    {
      name: 'XENON10', type: 'line', symbol: 'none', smooth: 0.3, z: 4,
      data: xenon10Mass.map((m, i) => [m, xenon10Sigma[i]]),
      lineStyle: { color: '#111', width: 5, type: [4, 5], cap: 'butt' }
    },
    {
      name: 'minor ticks', type: 'custom', silent: true, z: 5,
      data: yMinorTicks.map(v => [0, v]),
      renderItem: function (params, api) {
        const v = api.value(1);
        const l = api.coord([0, v]);
        const r = api.coord([16, v]);
        const st = { stroke: AXIS, lineWidth: 1.5 };
        return { type: 'group', children: [
          { type: 'line', shape: { x1: l[0], y1: l[1], x2: l[0] + 7, y2: l[1] }, style: st },
          { type: 'line', shape: { x1: r[0] - 7, y1: r[1], x2: r[0], y2: r[1] }, style: st }
        ] };
      }
    }
  ]
};

chart.setOption(option);
</script>
</body>
</html>
